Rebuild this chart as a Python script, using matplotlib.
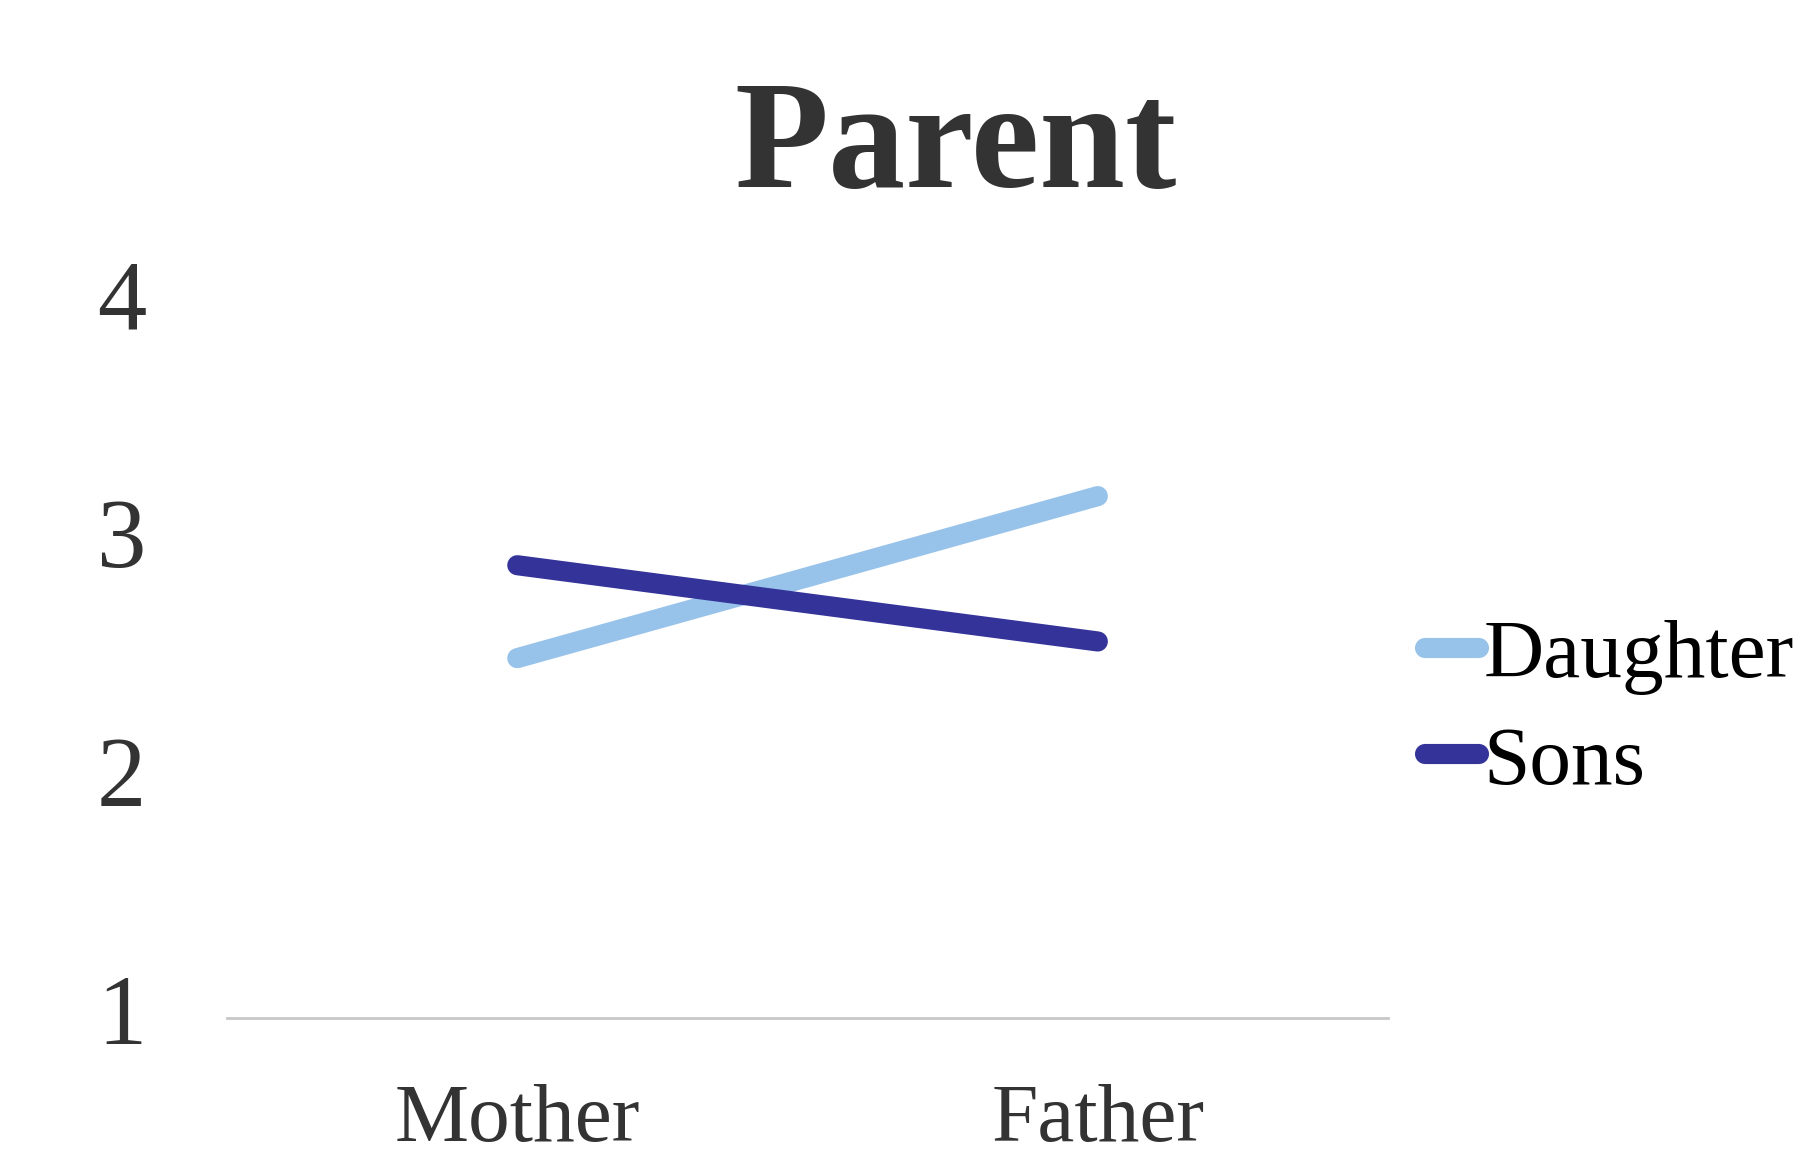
import matplotlib
matplotlib.use("Agg")
import matplotlib.pyplot as plt
import matplotlib.transforms as mtransforms

# Data
categories = ["Mother", "Father"]
daughter = [2.51, 3.19]
sons = [2.90, 2.58]
yticks = [1, 2, 3, 4]

plt.rcParams["font.family"] = ["Liberation Serif", "DejaVu Serif"]

fig = plt.figure(figsize=(18.06, 11.55), dpi=100)
fig.patch.set_facecolor("white")
ax = fig.add_axes([0.1257, 0.1186, 0.6429, 0.619])

x = list(range(len(categories)))
ax.plot(x, daughter, color="#97C2EA", lw=14.5, solid_capstyle="round", label="Daughter")
ax.plot(x, sons, color="#333399", lw=14.5, solid_capstyle="round", label="Sons")

ax.set_xlim(-0.5, 1.5)
ax.set_ylim(1, 4)
ax.set_xticks(x)
ax.set_xticklabels(categories, fontsize=60, color="#333333")
ax.set_yticks(yticks)
ax.set_yticklabels([str(v) for v in yticks], fontsize=71, color="#333333")
ax.tick_params(axis="y", length=0, pad=58)
ax.tick_params(axis="x", length=0, pad=47)

# nudge y labels up a bit
shift = mtransforms.ScaledTranslation(0, 9 / 100, fig.dpi_scale_trans)
for lab in ax.get_yticklabels():
    lab.set_transform(lab.get_transform() + shift)

for s in ["top", "right", "left"]:
    ax.spines[s].set_visible(False)
ax.spines["bottom"].set_color("#C8C8C8")
ax.spines["bottom"].set_linewidth(2)
ax.set_facecolor("none")

fig.text(0.529, 0.838, "Parent", fontsize=111, fontweight="bold",
         color="#333333", ha="center", va="baseline")

leg = fig.legend(loc="center left", bbox_to_anchor=(0.789, 0.385), frameon=False,
                 fontsize=60, handlelength=0.65, handletextpad=0.05,
                 labelspacing=0.36, borderpad=0, borderaxespad=0)

fig.savefig("out.png", dpi=100, facecolor="white")
